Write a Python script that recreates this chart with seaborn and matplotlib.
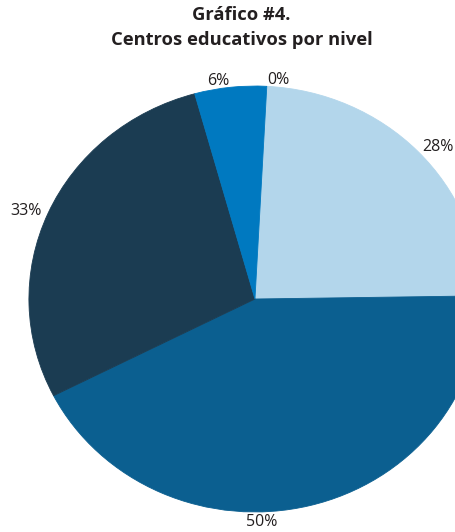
import matplotlib
matplotlib.use("Agg")
import matplotlib.pyplot as plt
import seaborn as sns

# Share of education centres by level (percent labels as published)
levels = ["Otro", "Inicial", "Primaria", "Secundaria", "Especial"]
shares = [0, 28, 50, 33, 6]
labels = [f"{v}%" for v in shares]
colors = ["#9fc7e3", "#b3d6eb", "#0b5f90", "#1b3c52", "#0079c0"]

sns.set_theme(style="white")
plt.rcParams["font.family"] = ["Open Sans", "DejaVu Sans"]

fig = plt.figure(figsize=(4.55, 5.32), dpi=100)
ax = fig.add_axes([0, 0, 1, 1])

wedges, texts = ax.pie(
    shares,
    labels=labels,
    colors=colors,
    startangle=87,
    counterclock=False,
    labeldistance=1.03,
    wedgeprops=dict(linewidth=0),
    textprops=dict(fontsize=11.5, color="#231f20"),
)
# hide the antialiasing seams between neighbouring wedges
for w in wedges:
    w.set_edgecolor(w.get_facecolor())
    w.set_linewidth(0.6)

ax.set_aspect("auto")
ax.set_xlim(-1.128, 0.885)
ax.set_ylim(-1.094, 1.404)
ax.axis("off")

# bottom label sits centred under the pie
texts[2].set_position((0.031, -1.045))
texts[2].set_horizontalalignment("center")

fig.text(0.531, 0.988, "Gráfico #4.\nCentros educativos por nivel",
         ha="center", va="top", fontsize=13.2, fontweight="bold",
         color="#231f20", linespacing=1.45)

fig.savefig("out.png", dpi=100)
